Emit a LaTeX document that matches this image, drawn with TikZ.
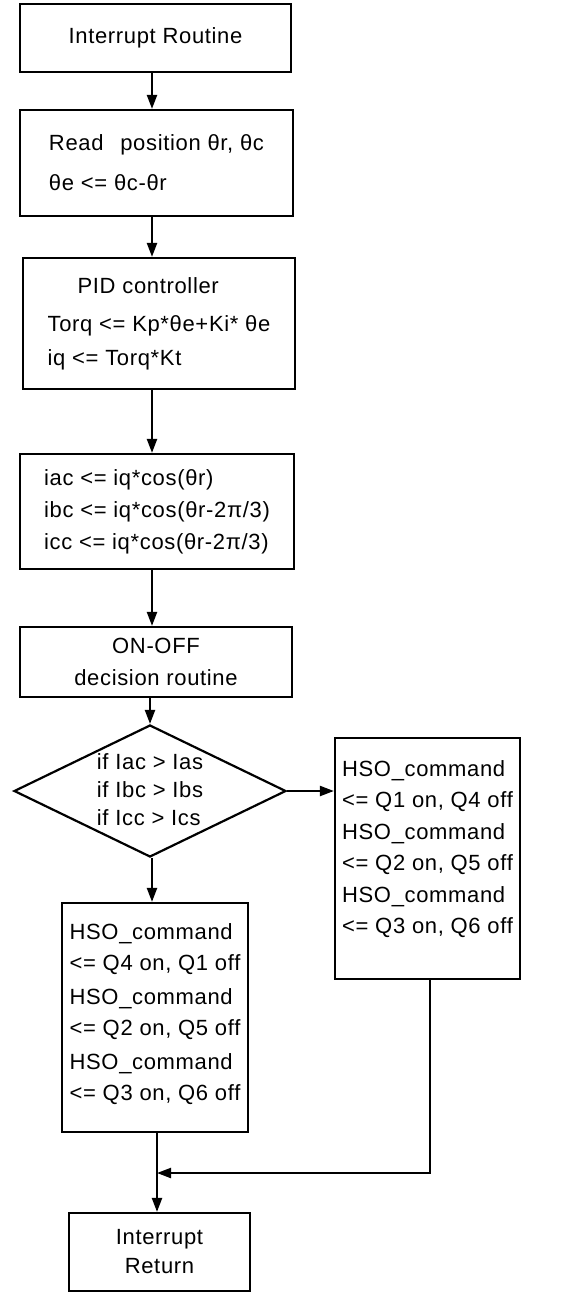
\documentclass[tikz,border=0pt]{standalone}
\usepackage{fontspec}
\setmainfont{Liberation Sans}[LetterSpace=3]
\usetikzlibrary{arrows.meta,shapes.geometric}

\begin{document}
\begin{tikzpicture}[x=1pt,y=-1pt,->,>={Triangle[length=14pt,width=10pt]},line width=2.2pt,
  box/.style={rectangle,draw,inner sep=0pt,font=\fontsize{22}{31}\selectfont},
  decision/.style={diamond,draw,inner sep=0pt,aspect=2}]
  \useasboundingbox (0,0) rectangle (570,1294);

  \node[box,minimum width=271pt,minimum height=68pt] (start) at (155.5,38) {Interrupt Routine};
  \node[box,align=left,minimum width=273pt,minimum height=106pt] (read) at (156.5,163)
    {Read\hspace{10pt} position θr, θc\\[9pt]θe <= θc-θr};
  \node[box,align=left,minimum width=272pt,minimum height=131pt] (pid) at (159,323.5)
    {\hspace{30pt}PID controller\\[7pt]Torq <= Kp*θe+Ki* θe\\[3pt]iq <= Torq*Kt};
  \node[box,align=left,minimum width=274pt,minimum height=115pt] (iabc) at (157,511.5)
    {iac <= iq*cos(θr)\\[1pt]ibc <= iq*cos(θr-2π/3)\\[1pt]icc <= iq*cos(θr-2π/3)};
  \node[box,align=center,minimum width=272pt,minimum height=70pt] (onoff) at (156,662)
    {ON-OFF\\[1pt]decision routine};

  % comparison of the three phase currents
  \node[decision,minimum width=272pt,minimum height=132pt] (dec) at (150,791) {};
  \node[align=left,inner sep=0pt,font=\fontsize{22}{28}\selectfont] (dectxt) at (150,790)
    {if Iac > Ias\\if Ibc > Ibs\\if Icc > Ics};

  % switching commands, empty space left at the bottom
  \node[box,align=left,minimum width=185pt,minimum height=241pt] (hsoR) at (427.5,858.5)
    {HSO\_command\\<= Q1 on, Q4 off\\[1pt]HSO\_command\\<= Q2 on, Q5 off\\[1pt]HSO\_command\\<= Q3 on, Q6 off\\[-8pt]\mbox{}};
  \node[box,align=left,minimum width=186pt,minimum height=229pt] (hsoL) at (155,1017.5)
    {HSO\_command\\<= Q4 on, Q1 off\\[3pt]HSO\_command\\<= Q2 on, Q5 off\\[3pt]HSO\_command\\<= Q3 on, Q6 off\\[-20pt]\mbox{}};
  \node[box,align=center,minimum width=181pt,minimum height=78pt] (ret) at (159.5,1252)
    {Interrupt\\[-2pt]Return};

  \coordinate (spine) at (152,0);
  \coordinate (join) at (157,1173);

  \draw (start.south -| spine) -- (read.north -| spine);
  \draw (read.south -| spine) -- (pid.north -| spine);
  \draw (pid.south -| spine) -- (iabc.north -| spine);
  \draw (iabc.south -| spine) -- (onoff.north -| spine);
  \draw (onoff.south -| dec.north) -- (dec.north);
  \draw (dec.east) -- (hsoR.west |- dec.east);
  \draw (dec.south -| spine) -- (hsoL.north -| spine);
  \draw (hsoL.south -| join) -- (ret.north -| join);
  \draw (hsoR.south -| 430,0) |- (join);
\end{tikzpicture}
\end{document}
